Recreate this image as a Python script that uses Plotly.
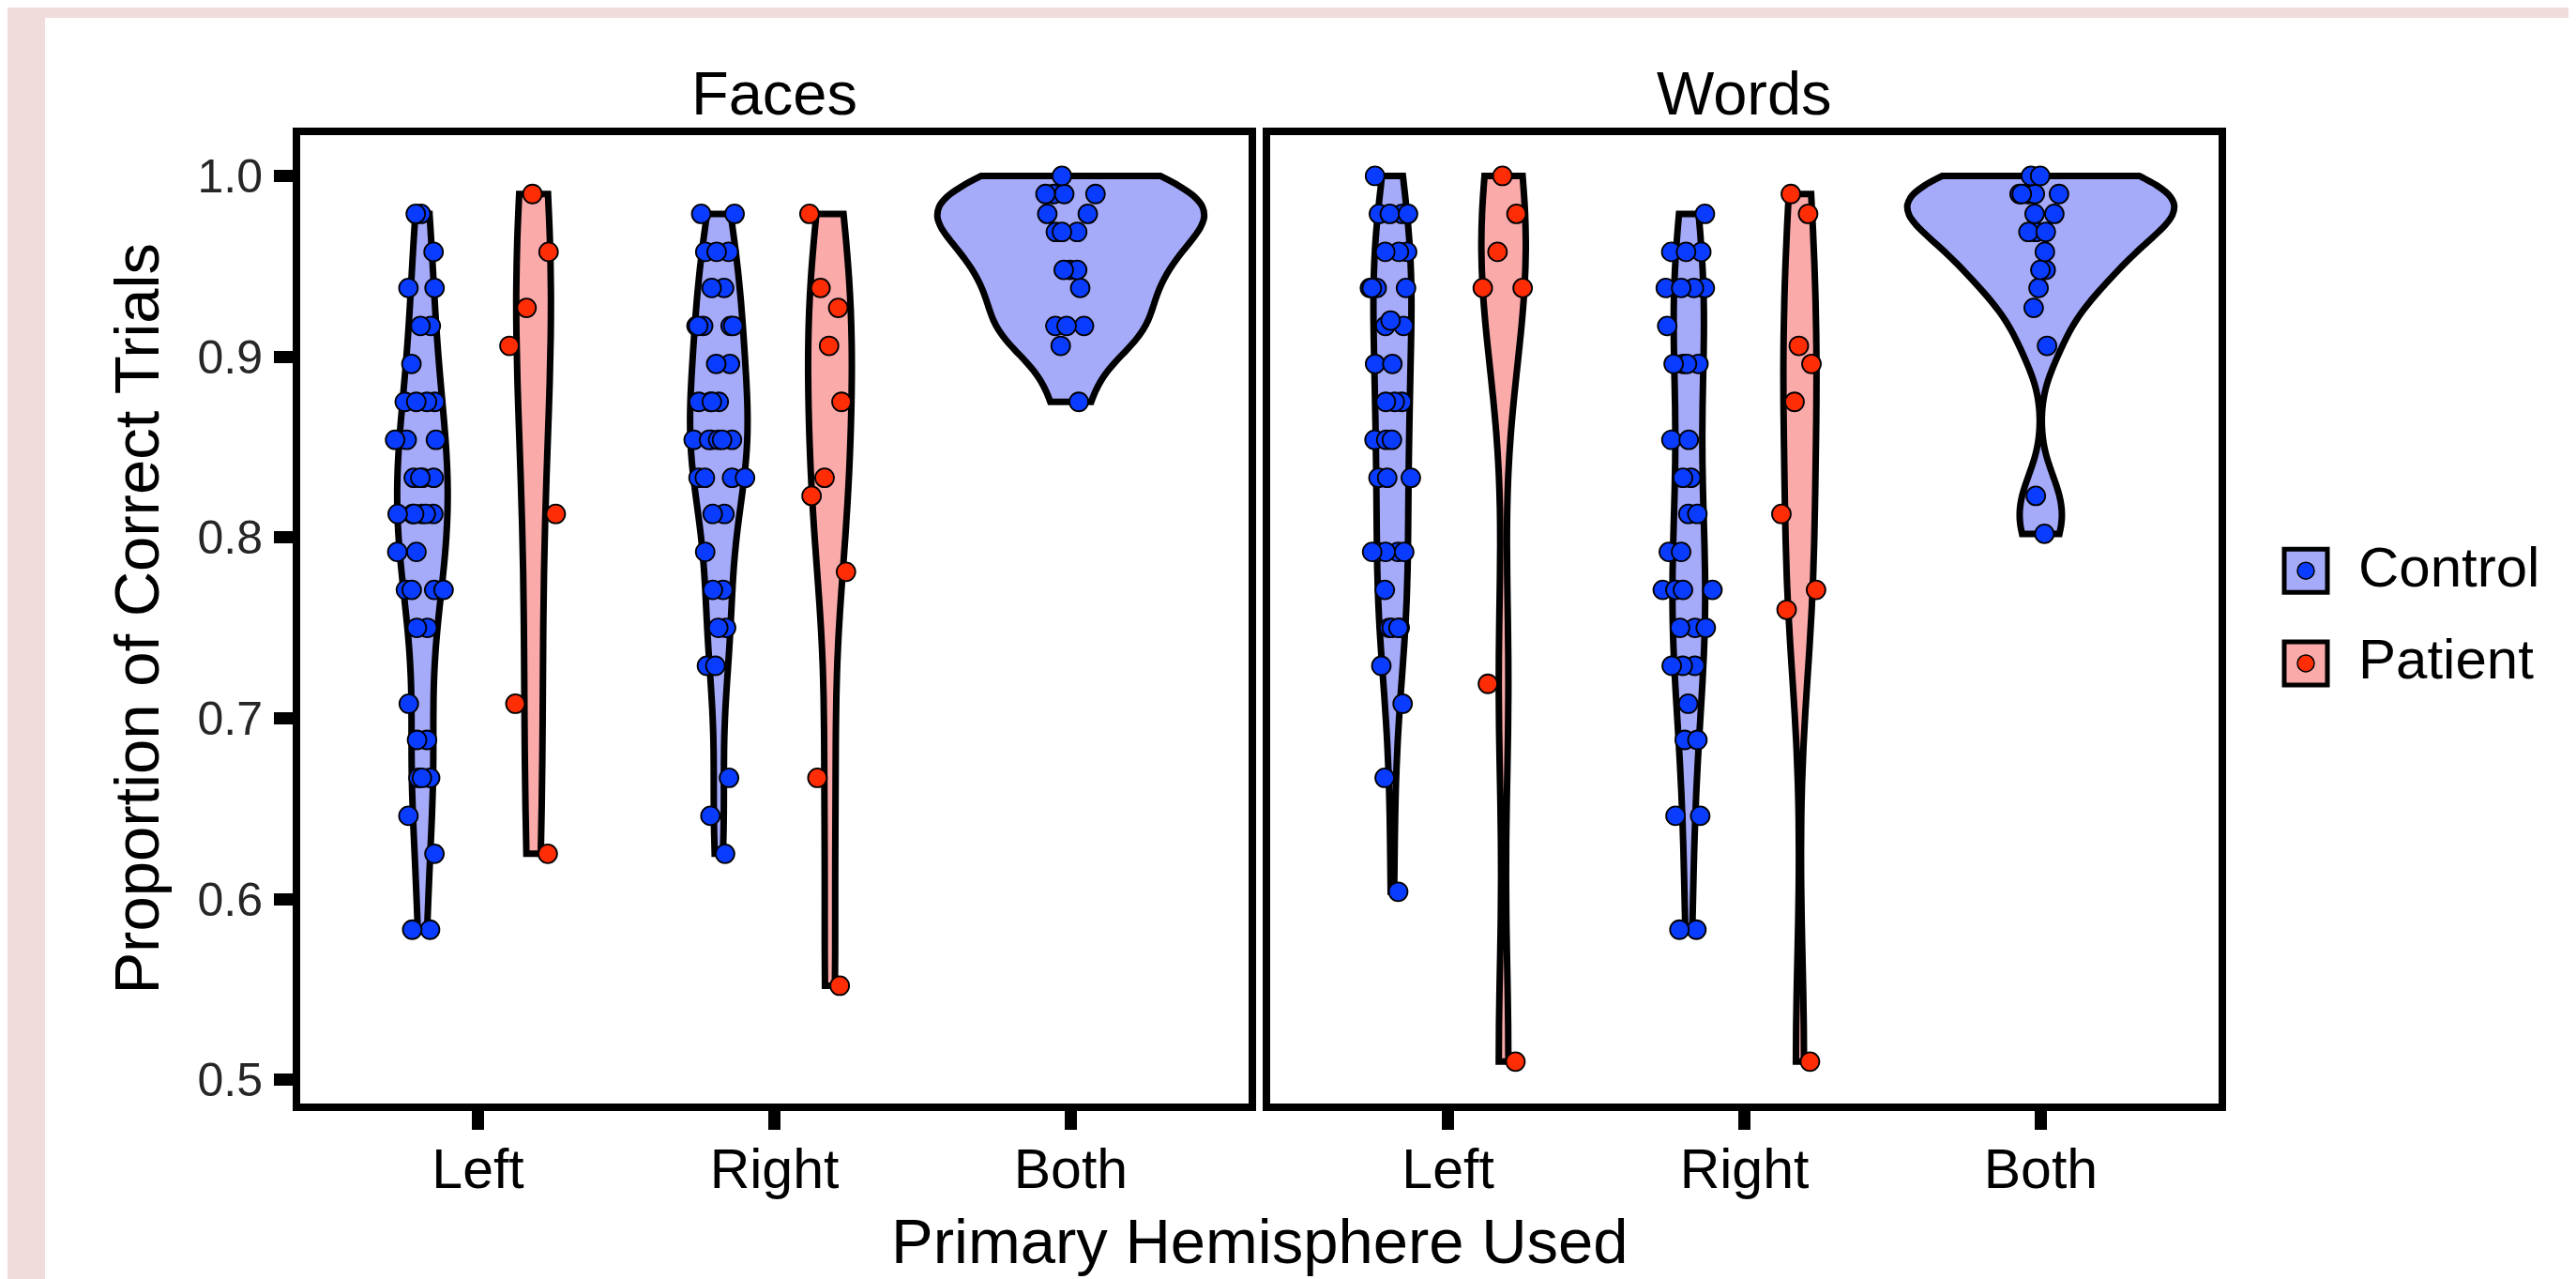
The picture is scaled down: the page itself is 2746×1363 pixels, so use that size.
import numpy as np
import plotly.graph_objects as go

# ---------------- data ----------------
hemispheres = ["Left", "Right", "Both"]
tasks = ["Faces", "Words"]
groups = ["Control", "Patient"]

faces_left_control = [0.979, 0.979, 0.958, 0.938, 0.938, 0.917, 0.917, 0.896,
                      0.875, 0.875, 0.875, 0.875, 0.854, 0.854, 0.854,
                      0.833, 0.833, 0.833, 0.833,
                      0.813, 0.813, 0.813, 0.813, 0.813, 0.813,
                      0.792, 0.792, 0.771, 0.771, 0.771, 0.771, 0.750, 0.750,
                      0.708, 0.688, 0.688, 0.667, 0.667, 0.667, 0.646, 0.625,
                      0.583, 0.583]
faces_left_patient = [0.990, 0.958, 0.927, 0.906, 0.813, 0.708, 0.625]

faces_right_control = [0.979, 0.979, 0.958, 0.958, 0.958, 0.938, 0.938,
                       0.917, 0.917, 0.917, 0.917, 0.917, 0.896, 0.896,
                       0.875, 0.875, 0.875, 0.875,
                       0.854, 0.854, 0.854, 0.854, 0.854, 0.854,
                       0.833, 0.833, 0.833, 0.833, 0.813, 0.813, 0.792,
                       0.771, 0.771, 0.750, 0.750, 0.729, 0.729,
                       0.667, 0.646, 0.625]
faces_right_patient = [0.979, 0.938, 0.927, 0.906, 0.875, 0.833, 0.823,
                       0.781, 0.667, 0.552]

faces_both_control = [1.000, 0.990, 0.990, 0.990, 0.990, 0.979, 0.979,
                      0.969, 0.969, 0.969, 0.948, 0.948, 0.948, 0.938,
                      0.917, 0.917, 0.917, 0.906, 0.875]

words_left_control = [1.000, 0.979, 0.979, 0.979, 0.979, 0.958, 0.958, 0.958,
                      0.938, 0.938, 0.938, 0.938, 0.920, 0.917, 0.917,
                      0.896, 0.896, 0.875, 0.875, 0.875, 0.854, 0.854, 0.854,
                      0.833, 0.833, 0.833,
                      0.792, 0.792, 0.792, 0.792, 0.792, 0.771,
                      0.750, 0.750, 0.750, 0.750, 0.729, 0.708, 0.667, 0.604]
words_left_patient = [1.000, 0.979, 0.958, 0.938, 0.938, 0.719, 0.510]

words_right_control = [0.979, 0.958, 0.958, 0.958,
                       0.938, 0.938, 0.938, 0.938, 0.938, 0.917,
                       0.896, 0.896, 0.896, 0.896, 0.854, 0.854,
                       0.833, 0.833, 0.813, 0.813, 0.792, 0.792,
                       0.771, 0.771, 0.771, 0.771, 0.750, 0.750, 0.750,
                       0.729, 0.729, 0.729, 0.708, 0.688, 0.688,
                       0.646, 0.646, 0.583, 0.583]
words_right_patient = [0.990, 0.979, 0.906, 0.896, 0.875, 0.813, 0.771,
                       0.760, 0.510]

words_both_control = [1.000, 1.000, 0.990, 0.990, 0.990, 0.990, 0.990,
                      0.979, 0.979, 0.969, 0.969, 0.969, 0.958, 0.948, 0.948,
                      0.938, 0.927, 0.906, 0.823, 0.802]

y_ticks = [0.5, 0.6, 0.7, 0.8, 0.9, 1.0]

data = {
    ("Faces", "Left", "Control"): faces_left_control,
    ("Faces", "Left", "Patient"): faces_left_patient,
    ("Faces", "Right", "Control"): faces_right_control,
    ("Faces", "Right", "Patient"): faces_right_patient,
    ("Faces", "Both", "Control"): faces_both_control,
    ("Words", "Left", "Control"): words_left_control,
    ("Words", "Left", "Patient"): words_left_patient,
    ("Words", "Right", "Control"): words_right_control,
    ("Words", "Right", "Patient"): words_right_patient,
    ("Words", "Both", "Control"): words_both_control,
}

# ---------------- styling ----------------
W, H = 2746, 1363
FONT = "Liberation Sans, Arial, Helvetica, sans-serif"
fill_col = {"Control": "#A5AAF9", "Patient": "#FBAAAA"}
pt_col = {"Control": "#0A3CFF", "Patient": "#FF2D05"}
dodge_width = 0.75
geom_width = 0.9


def nrd0(x):
    x = np.asarray(x, dtype=float)
    sd = x.std(ddof=1)
    q75, q25 = np.percentile(x, [75, 25])
    lo = min(sd, (q75 - q25) / 1.34)
    if lo == 0:
        lo = sd if sd > 0 else 1.0
    return 0.9 * lo * len(x) ** (-0.2)


def max_density(x, bw):
    x = np.asarray(x, dtype=float)
    grid = np.linspace(x.min(), x.max(), 512)
    d = np.exp(-0.5 * ((grid[:, None] - x[None, :]) / bw) ** 2).sum(1)
    d /= len(x) * bw * np.sqrt(2 * np.pi)
    return d.max()


def px_x(p):
    return p / W


def px_y(p):
    return 1 - p / H


fig = go.Figure()

# compute positions / widths per panel (ggplot "area" scaling)
specs = []
for ti, task in enumerate(tasks):
    panel = []
    for hi, hemi in enumerate(hemispheres):
        present = [g for g in groups if (task, hemi, g) in data]
        n = len(present)
        for gi, g in enumerate(present):
            vals = data[(task, hemi, g)]
            bw = nrd0(vals)
            md = max_density(vals, bw)
            if n == 1:
                pos = hi + 1
            else:
                pos = hi + 1 + (gi - (n - 1) / 2) * dodge_width / n
            panel.append(dict(task=task, g=g, vals=vals, bw=bw, md=md,
                              pos=pos, ew=geom_width / n, ti=ti))
    mmax = max(s["md"] for s in panel)
    for s in panel:
        s["w"] = s["ew"] * s["md"] / mmax
    specs.extend(panel)

# violin bodies
for s in specs:
    ax = "" if s["ti"] == 0 else "2"
    fig.add_trace(go.Violin(
        x=[s["pos"]] * len(s["vals"]), y=s["vals"],
        xaxis="x" + ax, yaxis="y" + ax,
        width=s["w"], bandwidth=s["bw"], spanmode="hard",
        scalemode="width", points=False,
        fillcolor=fill_col[s["g"]], opacity=1,
        line=dict(color="black", width=7),
        box_visible=False, meanline_visible=False,
        showlegend=False, hoverinfo="skip",
    ))

# jittered points (drawn by the library's own jitter)
for s in specs:
    ax = "" if s["ti"] == 0 else "2"
    fig.add_trace(go.Violin(
        x=[s["pos"]] * len(s["vals"]), y=s["vals"],
        xaxis="x" + ax, yaxis="y" + ax,
        width=0.2, bandwidth=s["bw"], spanmode="hard",
        points="all", pointpos=0, jitter=1,
        fillcolor="rgba(0,0,0,0)",
        line=dict(color="rgba(0,0,0,0)", width=0),
        marker=dict(size=20, color=pt_col[s["g"]],
                    line=dict(color="black", width=1.8)),
        box_visible=False, meanline_visible=False,
        showlegend=False, hoverinfo="skip",
    ))

# ---------------- axes ----------------
x_dom = [[312, 1323], [1346, 2357]]
y_top, y_bot = 136, 1171
y_range = [0.5 - (y_bot - 1146) / 1932, 1.0 + (180 - y_top) / 1932]

common_x = dict(range=[0.4, 3.6], tickvals=[1, 2, 3], ticktext=hemispheres,
                ticks="outside", ticklen=20, tickwidth=13, tickcolor="black",
                showline=True, linewidth=8, linecolor="black", mirror=True,
                showgrid=False, zeroline=False, ticklabelstandoff=-8,
                tickfont=dict(family=FONT, size=59, color="black"))
common_y = dict(range=y_range, showline=True, linewidth=8, linecolor="black",
                mirror=True, showgrid=False, zeroline=False,
                domain=[px_y(y_bot), px_y(y_top)])

fig.update_layout(
    width=W, height=H,
    margin=dict(l=0, r=0, t=0, b=0),
    paper_bgcolor="#F1DCDC", plot_bgcolor="white",
    font=dict(family=FONT, color="black"),
    violinmode="overlay",
    xaxis=dict(domain=[px_x(x_dom[0][0]), px_x(x_dom[0][1])], anchor="y", **common_x),
    xaxis2=dict(domain=[px_x(x_dom[1][0]), px_x(x_dom[1][1])], anchor="y2", **common_x),
    yaxis=dict(anchor="x", tickvals=y_ticks, tickformat=".1f", ticks="outside",
               ticklen=20, tickwidth=13, tickcolor="black", ticklabelstandoff=2,
               tickfont=dict(family=FONT, size=50, color="#262626"), **common_y),
    yaxis2=dict(anchor="x2", matches="y", showticklabels=False, ticks="", **common_y),
)

# white inner background
fig.add_shape(type="rect", xref="paper", yref="paper", layer="below",
              x0=px_x(40), x1=px_x(2731), y0=0, y1=px_y(11),
              fillcolor="white", line=dict(width=0))

# facet strip titles
for ti, task in enumerate(tasks):
    cx = (x_dom[ti][0] + x_dom[ti][1]) / 2
    fig.add_annotation(text=task, x=px_x(cx), y=px_y(92), xref="paper", yref="paper",
                       showarrow=False, xanchor="center", yanchor="middle",
                       font=dict(family=FONT, size=65, color="black"))

# axis titles
fig.add_annotation(text="Primary Hemisphere Used", x=px_x((x_dom[0][0] + x_dom[1][1]) / 2),
                   y=px_y(1318), xref="paper", yref="paper", showarrow=False,
                   xanchor="center", yanchor="middle",
                   font=dict(family=FONT, size=67, color="black"))
fig.add_annotation(text="Proportion of Correct Trials", x=px_x(138),
                   y=px_y((y_top + y_bot) / 2), xref="paper", yref="paper",
                   showarrow=False, textangle=-90, xanchor="center", yanchor="middle",
                   font=dict(family=FONT, size=67, color="black"))

# legend (custom keys)
for i, g in enumerate(groups):
    cy = 602 + i * 99
    cx = 2450
    fig.add_shape(type="rect", xref="paper", yref="paper",
                  x0=px_x(cx - 23), x1=px_x(cx + 23), y0=px_y(cy + 23), y1=px_y(cy - 23),
                  fillcolor=fill_col[g], line=dict(color="black", width=5))
    fig.add_shape(type="circle", xref="paper", yref="paper",
                  x0=px_x(cx - 9), x1=px_x(cx + 9), y0=px_y(cy + 9), y1=px_y(cy - 9),
                  fillcolor=pt_col[g], line=dict(color="black", width=1.5))
    fig.add_annotation(text=g, x=px_x(2504), y=px_y(cy - 4), xref="paper", yref="paper",
                       showarrow=False, xanchor="left", yanchor="middle",
                       font=dict(family=FONT, size=60, color="black"))

fig.write_html("out.html")
